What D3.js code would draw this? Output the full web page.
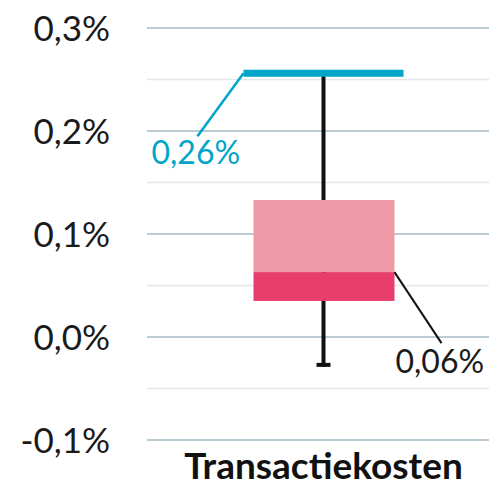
<!DOCTYPE html>
<html>
<head>
<meta charset="utf-8">
<script src="https://cdn.jsdelivr.net/npm/d3@7"></script>
<style>
  body { margin: 0; background: #fff; }
  svg { display: block; font-family: Lato, "Open Sans", sans-serif; }
</style>
</head>
<body>
<svg id="chart"></svg>
<script>
let width = 489;
let height = 485;

// data, values in percent
let categories = ['Transactiekosten'];
let whiskerLow = [-0.029];
let q1 = [0.035];
let median = [0.063];
let q3 = [0.133];
let whiskerHigh = [0.256];
let yTicks = [-0.1, 0, 0.1, 0.2, 0.3];
let gridTicks = [-0.1, -0.05, 0, 0.05, 0.1, 0.15, 0.2, 0.25, 0.3];

let nl = d3.formatLocale({decimal: ',', thousands: '.', grouping: [3], currency: ['€', ''], minus: '-'});
let fmt1 = v => nl.format('.1f')(v) + '%';
let fmt2 = v => nl.format('.2f')(v) + '%';

let yScale = d3.scaleLinear()
                .domain([-0.1, 0.3])
                .range([440, 28]);

let xScale = d3.scaleBand()
                .domain(categories)
                .range([158, 489]);

let svg = d3.select('#chart')
            .attr('width', width)
            .attr('height', height);

// gridlines
svg.selectAll('.grid')
    .data(gridTicks)
    .enter()
    .append('line')
        .attr('x1', 147)
        .attr('x2', width)
        .attr('y1', d => yScale(d))
        .attr('y2', d => yScale(d))
        .attr('stroke', (d, i) => i % 2 === 0 ? '#a3bac2' : '#e3e9eb')
        .attr('stroke-width', 1.3);

// y axis labels
svg.selectAll('.ylab')
    .data(yTicks)
    .enter()
    .append('text')
        .attr('x', 110)
        .attr('y', d => yScale(d))
        .attr('dy', '0.36em')
        .attr('text-anchor', 'end')
        .attr('font-size', 35)
        .attr('fill', '#1a1a1a')
        .text(fmt1);

let boxes = svg.selectAll('.box')
    .data(categories)
    .enter()
    .append('g');

let cx = d => xScale(d) + xScale.bandwidth() / 2;

// whiskers
boxes.append('line')
    .attr('x1', cx).attr('x2', cx)
    .attr('y1', (d, i) => yScale(whiskerHigh[i]))
    .attr('y2', (d, i) => yScale(whiskerLow[i]))
    .attr('stroke', '#111')
    .attr('stroke-width', 4);

boxes.append('line')
    .attr('x1', d => cx(d) - 7).attr('x2', d => cx(d) + 7)
    .attr('y1', (d, i) => yScale(whiskerLow[i]) - 2)
    .attr('y2', (d, i) => yScale(whiskerLow[i]) - 2)
    .attr('stroke', '#111')
    .attr('stroke-width', 4);

// box: upper part light, lower part dark
boxes.append('rect')
    .attr('x', d => cx(d) - 70)
    .attr('width', 141)
    .attr('y', (d, i) => yScale(q3[i]))
    .attr('height', (d, i) => yScale(median[i]) - yScale(q3[i]))
    .attr('fill', '#f09aa8');

boxes.append('rect')
    .attr('x', d => cx(d) - 70)
    .attr('width', 141)
    .attr('y', (d, i) => yScale(median[i]))
    .attr('height', (d, i) => yScale(q1[i]) - yScale(median[i]))
    .attr('fill', '#e73e6d');

// top cap (max)
boxes.append('line')
    .attr('x1', d => cx(d) - 80).attr('x2', d => cx(d) + 80)
    .attr('y1', (d, i) => yScale(whiskerHigh[i]))
    .attr('y2', (d, i) => yScale(whiskerHigh[i]))
    .attr('stroke', '#00a5c8')
    .attr('stroke-width', 7);

// callout for max
boxes.append('line')
    .attr('x1', d => cx(d) - 80)
    .attr('y1', (d, i) => yScale(whiskerHigh[i]))
    .attr('x2', d => cx(d) - 126)
    .attr('y2', (d, i) => yScale(whiskerHigh[i]) + 63)
    .attr('stroke', '#00a5c8')
    .attr('stroke-width', 2.5);

boxes.append('text')
    .attr('x', d => cx(d) - 172)
    .attr('y', (d, i) => yScale(whiskerHigh[i]) + 91)
    .attr('font-size', 32)
    .attr('fill', '#00a5c8')
    .text((d, i) => fmt2(whiskerHigh[i]));

// callout for median
boxes.append('line')
    .attr('x1', d => cx(d) + 71)
    .attr('y1', (d, i) => yScale(median[i]))
    .attr('x2', d => cx(d) + 118)
    .attr('y2', (d, i) => yScale(median[i]) + 71)
    .attr('stroke', '#111')
    .attr('stroke-width', 2);

boxes.append('text')
    .attr('x', d => cx(d) + 72)
    .attr('y', (d, i) => yScale(median[i]) + 101)
    .attr('font-size', 32)
    .attr('fill', '#1a1a1a')
    .text((d, i) => fmt2(median[i]));

// category label
boxes.append('text')
    .attr('x', cx)
    .attr('y', 479)
    .attr('text-anchor', 'middle')
    .attr('font-size', 37)
    .attr('font-weight', 'bold')
    .attr('fill', '#111')
    .text(d => d);
</script>
</body>
</html>
